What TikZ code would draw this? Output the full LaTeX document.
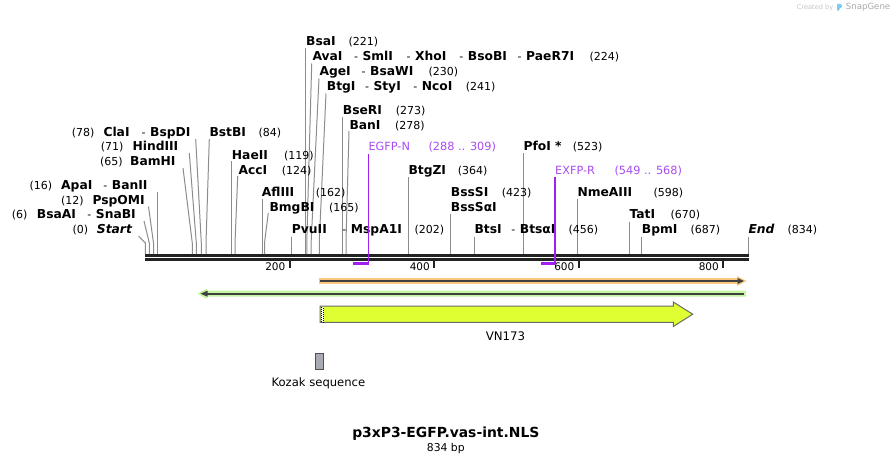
\documentclass[tikz,border=0pt]{standalone}
\usepackage{fontspec}
\usetikzlibrary{calc}
\setmainfont{DejaVu Sans}[ItalicFont={* Oblique},BoldItalicFont={* Bold Oblique}]
\definecolor{cutline}{HTML}{8C8C8C}
\definecolor{bbone}{HTML}{222222}
\definecolor{primer}{HTML}{A020F0}
\definecolor{primertxt}{HTML}{A94BF2}
\definecolor{orangeband}{HTML}{FBC97E}
\definecolor{greenband}{HTML}{C4F5A0}
\definecolor{featline}{HTML}{404040}
\definecolor{vnfill}{HTML}{E0FF33}
\definecolor{vndraw}{HTML}{6A6A6A}
\definecolor{kozfill}{HTML}{A8ABB3}
\definecolor{kozdraw}{HTML}{505050}
\definecolor{wmgray}{HTML}{C4C4C4}
\definecolor{wmgraydark}{HTML}{A8A8A8}
\definecolor{wmblue}{HTML}{7CCBF2}
\begin{document}
\begin{tikzpicture}[x=1pt,y=-1pt,
  enz/.style={anchor=base west,inner sep=0pt,font=\fontsize{12.3}{14}\selectfont\bfseries},
  num/.style={anchor=base west,inner sep=0pt,font=\fontsize{11}{13}\selectfont},
  prm/.style={anchor=base west,inner sep=0pt,text=primertxt,font=\fontsize{11.3}{13}\selectfont},
  ticklbl/.style={anchor=base east,inner sep=0pt,font=\fontsize{10.5}{12}\selectfont},
  cut/.style={draw=cutline,line width=1pt},
  bb/.style={draw=bbone,line width=3pt},
  tickmark/.style={draw=bbone,line width=2pt},
  primerline/.style={draw=primer,line width=1.3pt},
  primerbar/.style={draw=primer,line width=2.3pt},
  featdark/.style={draw=featline,line width=2pt}]
\useasboundingbox (0,0) rectangle (894,464);

% ---------- backbone ----------
\draw[bb] (145,255.5) -- (748.5,255.5);
\draw[bb] (145,259.6) -- (748.5,259.6);

% ---------- ticks ----------
\foreach \tx/\tl in {289.5/200,434/400,578.5/600,723/800}{
  \draw[tickmark] (\tx,261) -- (\tx,267.5);
  \node[ticklbl] (tick\tl) at (\tx-4,270.5) {\tl};
}

% ---------- cut-site coordinates on backbone ----------
\foreach \n/\cx in {c0/145.3,c6/149.3,c12/153.5,c16/157,c65/192.3,c71/196.3,c78/201.3,c84/206,
  c119/231.6,c124/235,c162/262.2,c165/264.5,c202/291.7,c221/305.7,c224/306.8,c230/311.2,c241/319.3,
  c273/342.4,c278/346,c364/408.3,c423/450.7,c456/474.6,c523/523.3,c598/577.6,c670/629.3,c687/641.4,c834/748}{
  \coordinate (\n) at (\cx,254);
}

% ---------- cut lines ----------
\draw[cut] (138.5,236) -- ($(c0)+(0,-11)$) -- (c0);
\draw[cut] (144,221) -- ($(c6)+(0,-11)$) -- (c6);
\draw[cut] (148.5,206.5) -- ($(c12)+(0,-11)$) -- (c12);
\draw[cut] (157,192) -- (c16);
\draw[cut] (183,168) -- ($(c65)+(0,-11)$) -- (c65);
\draw[cut] (189.3,153) -- ($(c71)+(0,-11)$) -- (c71);
\draw[cut] (195.7,139) -- ($(c78)+(0,-11)$) -- (c78);
\draw[cut] (209.3,139) -- ($(c84)+(0,-11)$) -- (c84);
\draw[cut] (231.6,161) -- (c119);
\draw[cut] (237.7,176) -- ($(c124)+(0,-11)$) -- (c124);
\draw[cut] (262.2,198.5) -- (c162);
\draw[cut] (268.3,213) -- ($(c165)+(0,-11)$) -- (c165);
\draw[cut] (291.7,236.5) -- (c202);
\draw[cut] (305.7,48) -- (c221);
\draw[cut] (311.7,63.5) -- ($(c224)+(0,-13)$) -- (c224);
\draw[cut] (319,78.5) -- ($(c230)+(0,-13)$) -- (c230);
\draw[cut] (326,93.5) -- ($(c241)+(0,-13)$) -- (c241);
\draw[cut] (342.4,116.5) -- (c273);
\draw[cut] (349,131) -- ($(c278)+(0,-13)$) -- (c278);
\draw[cut] (408.3,177) -- (c364);
\draw[cut] (450.7,213.5) -- (c423);
\draw[cut] (474.6,236.5) -- (c456);
\draw[cut] (523.3,153) -- (c523);
\draw[cut] (577.6,198.5) -- (c598);
\draw[cut] (629.3,221.5) -- (c670);
\draw[cut] (641.4,236.5) -- (c687);
\draw[cut] (748,236.5) -- (c834);

% ---------- enzyme labels ----------
\node[num] (n0) at (72.3,233.7) {(0)};
\node[enz] (Start) at (96.7,233.7) {\itshape Start};
\node[num] (n6) at (11.7,218.8) {(6)};
\node[enz] (BsaAI) at (36.7,218.8) {BsaAI};
\node[num] (h6) at (87.2,218.8) {-};
\node[enz] (SnaBI) at (95.7,218.8) {SnaBI};
\node[num] (n12) at (61,204) {(12)};
\node[enz] (PspOMI) at (92.3,204) {PspOMI};
\node[num] (n16) at (29.3,189) {(16)};
\node[enz] (ApaI) at (61,189) {ApaI};
\node[num] (h16) at (103.2,189) {-};
\node[enz] (BanII) at (111.7,189) {BanII};
\node[num] (n65) at (100,165.6) {(65)};
\node[enz] (BamHI) at (130,165.6) {BamHI};
\node[num] (n71) at (100.7,150.6) {(71)};
\node[enz] (HindIII) at (132.3,150.6) {HindIII};
\node[num] (n78) at (71.7,136.7) {(78)};
\node[enz] (ClaI) at (103.3,136.7) {ClaI};
\node[num] (h78) at (141.5,136.7) {-};
\node[enz] (BspDI) at (150,136.7) {BspDI};
\node[enz] (BstBI) at (209.3,136.7) {BstBI};
\node[num] (n84) at (258.3,136.7) {(84)};
\node[enz] (HaeII) at (231.7,159) {HaeII};
\node[num] (n119) at (284,159) {(119)};
\node[enz] (AccI) at (238.3,174.2) {AccI};
\node[num] (n124) at (281.7,174.2) {(124)};
\node[enz] (AflIII) at (261.7,196.5) {AflIII};
\node[num] (n162) at (315.7,196.5) {(162)};
\node[enz] (BmgBI) at (269.3,211) {BmgBI};
\node[num] (n165) at (329,211) {(165)};
\node[enz] (PvuII) at (291.7,233.7) {PvuII};
\node[num] (h202) at (342.2,233.7) {-};
\node[enz] (MspA1I) at (350.7,233.7) {MspA1I};
\node[num] (n202) at (414.3,233.7) {(202)};
\node[enz] (BsaI) at (306,45.7) {BsaI};
\node[num] (n221) at (348.3,45.7) {(221)};
\node[enz] (AvaI) at (312.3,60.7) {AvaI};
\node[num] (h224a) at (353.8,60.7) {-};
\node[enz] (SmlI) at (362.3,60.7) {SmlI};
\node[num] (h224b) at (406.5,60.7) {-};
\node[enz] (XhoI) at (415,60.7) {XhoI};
\node[num] (h224c) at (459.2,60.7) {-};
\node[enz] (BsoBI) at (467.7,60.7) {BsoBI};
\node[num] (h224d) at (517.5,60.7) {-};
\node[enz] (PaeR7I) at (526,60.7) {PaeR7I};
\node[num] (n224) at (589.3,60.7) {(224)};
\node[enz] (AgeI) at (319.3,75.7) {AgeI};
\node[num] (h230) at (361.5,75.7) {-};
\node[enz] (BsaWI) at (370,75.7) {BsaWI};
\node[num] (n230) at (428.3,75.7) {(230)};
\node[enz] (BtgI) at (326.7,90.7) {BtgI};
\node[num] (h241a) at (364.8,90.7) {-};
\node[enz] (StyI) at (373.3,90.7) {StyI};
\node[num] (h241b) at (413.2,90.7) {-};
\node[enz] (NcoI) at (421.7,90.7) {NcoI};
\node[num] (n241) at (465.7,90.7) {(241)};
\node[enz] (BseRI) at (342.7,114) {BseRI};
\node[num] (n273) at (395.7,114) {(273)};
\node[enz] (BanI) at (349.3,129) {BanI};
\node[num] (n278) at (395,129) {(278)};
\node[enz] (BtgZI) at (408.3,174.2) {BtgZI};
\node[num] (n364) at (457.7,174.2) {(364)};
\node[enz] (BssSI) at (450.7,196.5) {BssSI};
\node[num] (n423) at (501.7,196.5) {(423)};
\node[enz] (BssSaI) at (450.7,211) {BssSαI};
\node[enz] (BtsI) at (474.3,233.7) {BtsI};
\node[num] (h456) at (511.2,233.7) {-};
\node[enz] (BtsaI) at (519.7,233.7) {BtsαI};
\node[num] (n456) at (568.3,233.7) {(456)};
\node[enz] (PfoI) at (523.3,150.6) {PfoI *};
\node[num] (n523) at (572.7,150.6) {(523)};
\node[enz] (NmeAIII) at (577.3,196.5) {NmeAIII};
\node[num] (n598) at (653.3,196.5) {(598)};
\node[enz] (TatI) at (629.3,218.8) {TatI};
\node[num] (n670) at (670.3,218.8) {(670)};
\node[enz] (BpmI) at (641.7,233.7) {BpmI};
\node[num] (n687) at (690.3,233.7) {(687)};
\node[enz] (End) at (748.3,233.7) {\itshape End};
\node[num] (n834) at (787.3,233.7) {(834)};

% ---------- primers ----------
\node[prm] (EGFPN) at (368.3,150.6) {EGFP-N};
\node[prm] (EGFPNr) at (428.3,150.6) {(288 .. 309)};
\coordinate (egfpTop) at (368.3,153.5);
\coordinate (egfpEnd) at (368.3,263.5);
\coordinate (egfpStart) at (353,263.5);
\draw[primerline] (egfpTop) -- (egfpEnd);
\draw[primerbar] (egfpStart) -- ($(egfpEnd)+(0.6,0)$);
\node[prm] (EXFPR) at (555,174.2) {EXFP-R};
\node[prm] (EXFPRr) at (614.3,174.2) {(549 .. 568)};
\coordinate (exfpTop) at (555,177);
\coordinate (exfpEnd) at (555,263.5);
\coordinate (exfpStart) at (541.3,263.5);
\draw[primerline] (exfpTop) -- (exfpEnd);
\draw[primerbar] (exfpStart) -- ($(exfpEnd)+(0.6,0)$);

% ---------- orange feature (forward) ----------
\fill[orangeband] (319,278.2) -- (737,278.2) -- (737,276) -- (746.5,281) -- (737,286) -- (737,283.8) -- (319,283.8) -- cycle;
\draw[featdark] (320,281) -- (739,281);
\fill[featline] (737.5,278) -- (744,281) -- (737.5,284) -- cycle;

% ---------- green feature (reverse) ----------
\fill[greenband] (746,290.7) -- (207,290.7) -- (207,288.5) -- (197.5,293.7) -- (207,298.9) -- (207,296.7) -- (746,296.7) -- cycle;
\draw[featdark] (744,293.7) -- (205,293.7);
\fill[featline] (207.5,290.7) -- (200.5,293.7) -- (207.5,296.7) -- cycle;

% ---------- VN173 arrow ----------
\draw[fill=vnfill,draw=vndraw,line width=1pt] (320,306) -- (673.3,306) -- (673.3,302) -- (692.7,314.2) -- (673.3,326.5) -- (673.3,322.3) -- (320,322.3) -- cycle;
\fill[white] (320.5,306.5) rectangle (324.3,321.8);
\draw[black,line width=1pt,dash pattern=on 1pt off 1pt] (321.6,306.5) -- (321.6,321.8);
\draw[black,line width=1pt,dash pattern=on 1pt off 1pt,dash phase=1pt] (323.2,306.5) -- (323.2,321.8);
\node[anchor=base,inner sep=0pt,font=\fontsize{11.8}{13}\selectfont] (VN173) at (505.5,340.8) {VN173};

% ---------- Kozak ----------
\draw[fill=kozfill,draw=kozdraw,line width=1pt] (315.3,353.5) rectangle (323.2,369.2);
\node[anchor=base,inner sep=0pt,font=\fontsize{11.6}{13}\selectfont] (Kozak) at (318.4,386.7) {Kozak sequence};

% ---------- title ----------
\node[anchor=base,inner sep=0pt,font=\fontsize{13.9}{15}\selectfont\bfseries] (title) at (445.8,437.7) {p3xP3-EGFP.vas-int.NLS};
\node[anchor=base,inner sep=0pt,font=\fontsize{10.8}{12}\selectfont] (bp) at (445.8,451.7) {834 bp};

% ---------- watermark ----------
\node[anchor=base west,inner sep=0pt,text=wmgray,font=\fontsize{6.6}{8}\selectfont] (created) at (796.7,9.5) {Created by};
\fill[wmblue,rounded corners=1pt] (837,3.5) -- (842,4.5) -- (842,7.5) -- (839.3,8.3) -- (839.3,10.8) -- (837,10.8) -- cycle;
\node[anchor=base west,inner sep=0pt,text=wmgraydark,font=\fontsize{8.6}{10}\selectfont] (snapgene) at (845.7,9.8) {SnapGene};
\end{tikzpicture}
\end{document}
